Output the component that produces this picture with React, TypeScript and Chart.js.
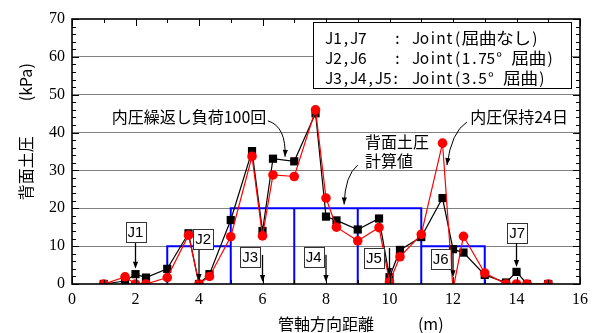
import React, { useEffect, useRef } from "react";
import { Chart, registerables } from "chart.js";

Chart.register(...registerables);

// Measurement positions along the pipe axis (m)
const positions = [1, 1.67, 2, 2.33, 3, 3.67, 4, 4.33, 5, 5.67, 6, 6.33, 7, 7.67, 8, 8.33, 9, 9.67, 10, 10.33, 11, 11.67, 12, 12.33, 13, 13.67, 14, 14.33, 15];

// Back earth pressure after 100 cycles of internal pressure loading (kPa)
const cyclicLoad100 = [0, 0.8, 2.6, 1.7, 4.0, 13.4, 0, 2.6, 16.9, 35.1, 14.0, 33.1, 32.4, 45.1, 17.8, 16.8, 14.4, 17.3, 1.8, 9.0, 12.4, 22.7, 9.2, 8.3, 2.4, 0.4, 3.2, 0, 0];

// Back earth pressure after holding internal pressure for 24 days (kPa)
const pressureHeld24d = [0, 1.9, 0, 0, 1.7, 12.9, 0, 2.0, 12.5, 33.7, 12.7, 28.8, 28.4, 46.0, 22.7, 15.0, 11.4, 14.9, 0.6, 7.2, 13.1, 37.2, -1.5, 12.6, 2.9, 0, 0, 0, 0];

// Calculated back earth pressure: step outline and block dividers
const calcEdges = [3, 5, 11, 13];
const calcLevels = [10, 20, 10];
const calcDividers = [5, 7, 9, 11];
const calcDividerTop = 20;

// Axis ticks
const xTickMax = 16;
const yTickMax = 70;

// Joint labels
const jointNames = ["J1", "J2", "J3", "J4", "J5", "J6", "J7"];
const jointAt = [2, 4, 6, 8, 10, 12, 14];

const legendRows = [
  ["J1,J7", ":", "Joint(屈曲なし)"],
  ["J2,J6", ":", "Joint(1.75° 屈曲)"],
  ["J3,J4,J5:", "", "Joint(3.5° 屈曲)"],
];

const SANS = '"Noto Sans CJK JP", "Noto Sans", sans-serif';

function buildCalcOutline() {
  const pts: { x: number; y: number | null }[] = [];
  pts.push({ x: calcEdges[0], y: 0 });
  for (let i = 0; i < calcLevels.length; i++) {
    pts.push({ x: calcEdges[i], y: calcLevels[i] });
    pts.push({ x: calcEdges[i + 1], y: calcLevels[i] });
  }
  pts.push({ x: calcEdges[calcEdges.length - 1], y: 0 });
  calcDividers.forEach((d) => {
    pts.push({ x: d, y: null });
    pts.push({ x: d, y: 0 });
    pts.push({ x: d, y: calcDividerTop });
  });
  return pts;
}

function arrowHead(ctx: CanvasRenderingContext2D, fx: number, fy: number, tx: number, ty: number, len = 7, half = 2.6) {
  const a = Math.atan2(ty - fy, tx - fx);
  ctx.beginPath();
  ctx.moveTo(tx, ty);
  ctx.lineTo(tx - len * Math.cos(a) + half * Math.sin(a), ty - len * Math.sin(a) - half * Math.cos(a));
  ctx.lineTo(tx - len * Math.cos(a) - half * Math.sin(a), ty - len * Math.sin(a) + half * Math.cos(a));
  ctx.closePath();
  ctx.fill();
}

// Fixed-pitch text: half-width cells for ASCII, full-width cells for CJK
function drawPitched(ctx: CanvasRenderingContext2D, text: string, x: number, y: number) {
  const half = 8.3;
  const full = 17.2;
  let cx = x;
  for (const ch of text) {
    const wide = ch.charCodeAt(0) > 0x2000;
    const cell = wide ? full : half;
    ctx.save();
    ctx.translate(cx + cell / 2, y);
    if (wide) ctx.scale(1.15, 1);
    ctx.font = `15.5px "Noto Sans CJK JP", sans-serif`;
    ctx.textAlign = "center";
    ctx.textBaseline = "middle";
    ctx.fillText(ch, 0, 0);
    ctx.restore();
    cx += cell;
  }
}

const framePlugin = {
  id: "frameTicks",
  afterDatasetsDraw(chart: any) {
    const { ctx, chartArea: ca, scales } = chart;
    const xs = scales.x;
    const ys = scales.y;
    ctx.save();
    ctx.strokeStyle = "#000";
    ctx.lineWidth = 1;
    for (let v = 0; v <= yTickMax; v += 2) {
      const py = Math.round(ys.getPixelForValue(v)) + 0.5;
      const len = v % 10 === 0 ? 7 : 4;
      ctx.beginPath();
      ctx.moveTo(ca.left, py);
      ctx.lineTo(ca.left + len, py);
      ctx.moveTo(ca.right, py);
      ctx.lineTo(ca.right - len, py);
      ctx.stroke();
    }
    for (let v = 0; v <= xTickMax; v += 1) {
      const px = Math.round(xs.getPixelForValue(v)) + 0.5;
      const len = v % 2 === 0 ? 7 : 4;
      ctx.beginPath();
      ctx.moveTo(px, ca.bottom);
      ctx.lineTo(px, ca.bottom - len);
      ctx.moveTo(px, ca.top);
      ctx.lineTo(px, ca.top + len);
      ctx.stroke();
    }
    ctx.lineWidth = 1.6;
    ctx.strokeRect(ca.left, ca.top, ca.right - ca.left, ca.bottom - ca.top);

    // axis titles
    ctx.fillStyle = "#000";
    ctx.font = `16px ${SANS}`;
    ctx.textAlign = "center";
    ctx.textBaseline = "middle";
    ctx.fillText("管軸方向距離", xs.getPixelForValue(8.0), ca.bottom + 40);
    ctx.fillText("(m)", xs.getPixelForValue(11.3), ca.bottom + 40);
    const tx = ca.left - 46;
    [["背面土圧", 30.6], ["(kPa)", 53.3]].forEach(([t, v]) => {
      ctx.save();
      ctx.translate(tx, ys.getPixelForValue(v as number));
      ctx.rotate(-Math.PI / 2);
      ctx.fillText(t as string, 0, 0);
      ctx.restore();
    });
    ctx.restore();
  },
};

const annotationPlugin = {
  id: "notes",
  afterDraw(chart: any) {
    const { ctx, scales } = chart;
    const X = (v: number) => scales.x.getPixelForValue(v);
    const Y = (v: number) => scales.y.getPixelForValue(v);
    ctx.save();
    ctx.fillStyle = "#000";
    ctx.strokeStyle = "#000";
    ctx.lineWidth = 1;

    // joint boxes with arrows
    const boxCenters = [
      [2.0, 13.7], [4.13, 11.9], [5.61, 7.1], [7.61, 7.1], [9.51, 6.9], [11.61, 6.6], [14.02, 13.5],
    ];
    const arrowSpans = [
      [10.8, 4.0], [9.0, 0.8], [7.7, 0.5], [7.7, 0.5], [9.5, 2.4], [8.5, 1.8], [10.8, 4.5],
    ];
    ctx.font = `15px "Liberation Sans", Arial, sans-serif`;
    ctx.textAlign = "center";
    ctx.textBaseline = "middle";
    jointNames.forEach((name, i) => {
      const cx = X(boxCenters[i][0]);
      const cy = Y(boxCenters[i][1]);
      const w = 20, h = 20;
      ctx.fillStyle = "#fff";
      ctx.fillRect(cx - w / 2, cy - h / 2, w, h);
      ctx.strokeStyle = "#333";
      ctx.strokeRect(Math.round(cx - w / 2) + 0.5, Math.round(cy - h / 2) + 0.5, w, h);
      ctx.fillStyle = "#000";
      ctx.fillText(name, cx, cy + 1);
      const ax = X(jointAt[i]);
      const y0 = Y(arrowSpans[i][0]);
      const y1 = Y(arrowSpans[i][1]);
      ctx.strokeStyle = "#000";
      ctx.lineWidth = 1.3;
      ctx.beginPath();
      ctx.moveTo(ax, y0);
      ctx.lineTo(ax, y1 - 5);
      ctx.stroke();
      arrowHead(ctx, ax, y0, ax, y1);
      ctx.lineWidth = 1;
    });

    // legend box
    const lx0 = X(7.59), lx1 = X(15.72), ly0 = Y(69.2), ly1 = Y(51.8);
    ctx.fillStyle = "#fff";
    ctx.fillRect(lx0, ly0, lx1 - lx0, ly1 - ly0);
    ctx.strokeStyle = "#000";
    ctx.lineWidth = 1;
    ctx.strokeRect(Math.round(lx0) + 0.5, Math.round(ly0) + 0.5, Math.round(lx1 - lx0), Math.round(ly1 - ly0));
    ctx.fillStyle = "#000";
    const rowY = [64.9, 59.6, 54.3];
    legendRows.forEach((row, i) => {
      drawPitched(ctx, row[0], X(7.97), Y(rowY[i]));
      if (row[1]) drawPitched(ctx, row[1], X(10.12), Y(rowY[i]));
      drawPitched(ctx, row[2], X(10.71), Y(rowY[i]));
    });

    // descriptive notes with curved arrows
    ctx.textAlign = "left";
    ctx.textBaseline = "middle";
    ctx.font = `16px ${SANS}`;
    ctx.fillText("内圧繰返し負荷100回", X(1.25), Y(44.2));
    ctx.fillText("背面土圧", X(9.23), Y(37.6));
    ctx.fillText("計算値", X(9.23), Y(32.4));
    ctx.fillText("内圧保持24日", X(12.54), Y(44.1));

    const curves = [
      [[6.17, 43.1], [6.75, 41.6], [6.71, 33.6]],
      [[9.0, 31.4], [8.6, 28.8], [8.57, 21.0]],
      [[12.44, 42.8], [11.95, 40.2], [11.81, 31.4]],
    ];
    ctx.lineWidth = 1;
    curves.forEach(([s, c, e]) => {
      ctx.beginPath();
      ctx.moveTo(X(s[0]), Y(s[1]));
      ctx.quadraticCurveTo(X(c[0]), Y(c[1]), X(e[0]), Y(e[1]));
      ctx.stroke();
      arrowHead(ctx, X(c[0]), Y(c[1]), X(e[0]), Y(e[1]), 7, 2.6);
    });
    ctx.restore();
  },
};

export default function App() {
  const ref = useRef<HTMLCanvasElement | null>(null);
  useEffect(() => {
    document.body.style.margin = "0";
    const canvas = ref.current!;
    const toPts = (vals: number[]) => positions.map((x, i) => ({ x, y: vals[i] }));
    const chart = new Chart(canvas, {
      type: "scatter",
      data: {
        datasets: [
          {
            label: "内圧保持24日",
            data: toPts(pressureHeld24d),
            showLine: true,
            borderColor: "#ff0000",
            backgroundColor: "#ff0000",
            borderWidth: 1.2,
            pointStyle: "circle",
            pointRadius: 4.8,
            pointBorderWidth: 0,
            clip: 0,
            order: 0,
          },
          {
            label: "内圧繰返し負荷100回",
            data: toPts(cyclicLoad100),
            showLine: true,
            borderColor: "#000",
            backgroundColor: "#000",
            borderWidth: 1.2,
            pointStyle: "rect",
            pointRadius: 5.8,
            pointBorderWidth: 0,
            clip: 0,
            order: 1,
          },
          {
            label: "背面土圧計算値",
            data: buildCalcOutline(),
            showLine: true,
            spanGaps: false,
            borderColor: "#0000ff",
            backgroundColor: "#0000ff",
            borderWidth: 2,
            pointRadius: 0,
            order: 2,
          },
        ] as any,
      },
      options: {
        animation: false,
        responsive: false,
        devicePixelRatio: 1,
        layout: { padding: { top: 19, right: 15, left: 0, bottom: 0 } },
        plugins: { legend: { display: false }, tooltip: { enabled: false } },
        scales: {
          x: {
            type: "linear",
            min: 0,
            max: xTickMax,
            border: { display: false },
            grid: { display: false, drawTicks: false },
            ticks: {
              stepSize: 2,
              padding: 6,
              color: "#000",
              font: { family: '"Liberation Serif", serif', size: 16 },
            },
            afterFit: (s: any) => {
              s.height = 49;
            },
          },
          y: {
            min: 0,
            max: yTickMax,
            border: { display: false },
            grid: {
              drawTicks: false,
              color: (c: any) => (c.tick && (c.tick.value === 0 || c.tick.value === yTickMax) ? "rgba(0,0,0,0)" : "#808080"),
              lineWidth: 1,
            },
            ticks: {
              stepSize: 10,
              padding: 7,
              color: "#000",
              font: { family: '"Liberation Serif", serif', size: 16 },
            },
            afterFit: (s: any) => {
              s.width = 72;
            },
          },
        },
      },
      plugins: [framePlugin, annotationPlugin],
    });
    return () => chart.destroy();
  }, []);
  return <canvas ref={ref} width={595} height={333} style={{ display: "block" }} />;
}
